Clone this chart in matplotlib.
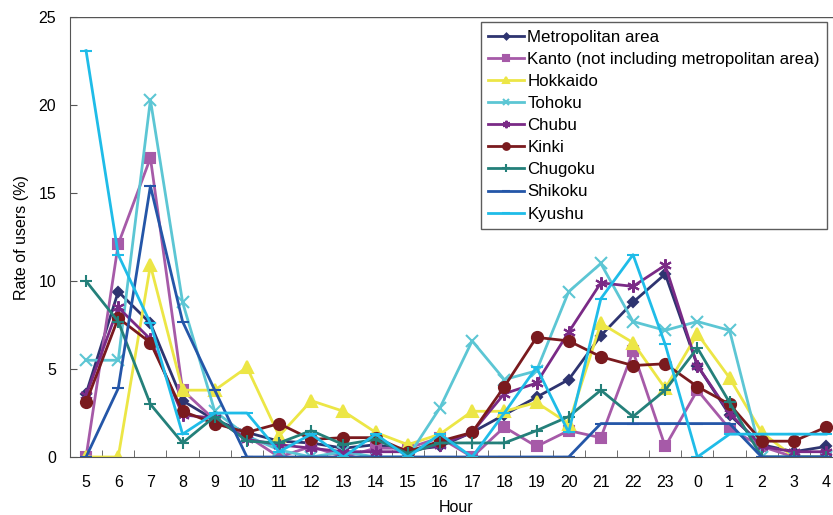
import numpy as np
import matplotlib.pyplot as plt

hours = ["5", "6", "7", "8", "9", "10", "11", "12", "13", "14", "15", "16",
         "17", "18", "19", "20", "21", "22", "23", "0", "1", "2", "3", "4"]

metropolitan = [3.6, 9.4, 7.6, 3.2, 2.1, 1.4, 0.9, 0.8, 0.5, 0.7, 0.4, 0.6,
                1.4, 2.4, 3.4, 4.4, 6.9, 8.8, 10.4, 5.2, 2.4, 0.7, 0.3, 0.6]
kanto = [0.0, 12.1, 17.0, 3.8, 2.1, 1.2, 0.0, 0.6, 0.0, 0.5, 0.5, 1.1,
         0.0, 1.7, 0.6, 1.5, 1.1, 6.0, 0.6, 3.8, 1.6, 0.6, 0.0, 0.0]
hokkaido = [0.0, 0.0, 10.9, 3.8, 3.8, 5.1, 1.2, 3.2, 2.6, 1.4, 0.7, 1.3,
            2.6, 2.6, 3.1, 1.9, 7.6, 6.5, 3.9, 7.0, 4.5, 1.4, 0.0, 0.0]
tohoku = [5.5, 5.5, 20.3, 8.8, 2.6, 1.2, 0.4, 0.0, 0.3, 0.0, 0.0, 2.8,
          6.6, 4.4, 4.9, 9.4, 11.0, 7.7, 7.2, 7.7, 7.2, 0.0, 0.0, 0.0]
chubu = [3.5, 8.5, 6.7, 2.4, 2.2, 1.0, 0.7, 0.5, 0.3, 0.3, 0.3, 0.7,
         1.4, 3.6, 4.2, 7.1, 9.9, 9.7, 10.9, 5.2, 2.5, 0.6, 0.3, 0.3]
kinki = [3.1, 7.9, 6.5, 2.6, 1.9, 1.4, 1.9, 1.0, 1.1, 1.1, 0.3, 0.9,
         1.4, 4.0, 6.8, 6.6, 5.7, 5.2, 5.3, 4.0, 3.0, 0.9, 0.9, 1.7]
chugoku = [10.0, 7.7, 3.0, 0.8, 2.3, 0.9, 0.8, 1.5, 0.7, 1.0, 0.2, 0.8,
           0.8, 0.8, 1.5, 2.3, 3.8, 2.3, 3.8, 6.2, 3.1, 0.0, 0.0, 0.0]
shikoku = [0.0, 3.9, 15.4, 7.7, 3.8, 0.0, 0.0, 0.0, 0.0, 0.0, 0.0, 0.0,
           0.0, 0.0, 0.0, 0.0, 1.9, 1.9, 1.9, 1.9, 1.9, 0.0, 0.0, 0.0]
kyushu = [23.1, 11.5, 7.6, 1.3, 2.5, 2.5, 0.3, 1.3, 0.0, 1.3, 0.0, 1.3,
          0.0, 2.5, 5.1, 1.4, 9.0, 11.5, 6.4, 0.0, 1.3, 1.3, 1.3, 1.3]

series = [
    ("Metropolitan area", metropolitan, "#2e3470", "D", 5),
    ("Kanto (not including metropolitan area)", kanto, "#a65aa8", "s", 7),
    ("Hokkaido", hokkaido, "#ece646", "^", 8),
    ("Tohoku", tohoku, "#5cc6d4", "x", 8),
    ("Chubu", chubu, "#7a2a86", (6, 2, 0), 9),
    ("Kinki", kinki, "#7a1a1e", "o", 8),
    ("Chugoku", chugoku, "#24807a", "+", 9),
    ("Shikoku", shikoku, "#2456a8", "_", 9),
    ("Kyushu", kyushu, "#1fbce8", "_", 9),
]

plt.rcParams['font.family'] = ['Liberation Sans', 'DejaVu Sans']

fig = plt.figure(figsize=(8.33, 5.15), dpi=100)
ax = fig.add_axes([0.084, 0.1126, 0.927, 0.854])

x = np.arange(len(hours))
for name, vals, col, mk, ms in series:
    ax.plot(x, vals, color=col, marker=mk, markersize=ms, linewidth=2,
            markeredgewidth=1.5, label=name)

ax.set_xlim(-0.5, len(hours) - 0.5)
ax.set_ylim(0, 25)
ax.set_yticks([0, 5, 10, 15, 20, 25])
ax.set_xticks(x)
ax.set_xticklabels(hours)
ax.set_xticks(np.arange(-0.5, len(hours)), minor=True)
ax.tick_params(axis='x', which='major', length=0, labelsize=11.5, pad=13)
ax.tick_params(axis='x', which='minor', direction='in', length=5, color='#555555')
ax.tick_params(axis='y', direction='in', length=5, labelsize=11.5, pad=10,
               color='#555555')
ax.set_xlabel("Hour", fontsize=11.5, labelpad=7)
ax.set_ylabel("Rate of users (%)", fontsize=11.5, labelpad=7)

for side in ['top', 'right']:
    ax.spines[side].set_visible(False)
ax.spines['left'].set_color('#555555')
ax.spines['bottom'].set_color('#555555')
ax.axhline(25, color='#555555', linewidth=1)

leg = ax.legend(loc='upper left', bbox_to_anchor=(0.532, 0.989), fontsize=12.2,
                frameon=True, fancybox=False, edgecolor='#333333',
                handlelength=2.1, handletextpad=0.2, labelspacing=0.42,
                borderpad=0.45, borderaxespad=0, markerscale=0.6)
leg.get_frame().set_linewidth(1)

fig.savefig("out.png", dpi=100)
